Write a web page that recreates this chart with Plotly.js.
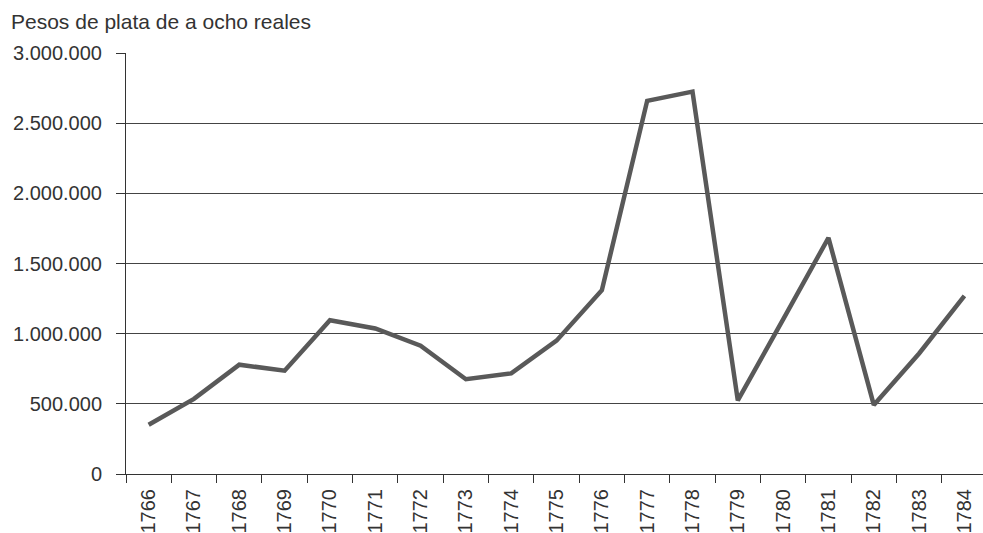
<!DOCTYPE html>
<html>
<head>
<meta charset="utf-8">
<script src="https://cdn.plot.ly/plotly-3.0.1.min.js"></script>
<style>html,body{margin:0;padding:0;background:#fff;}#chart{width:983px;height:533px;}</style>
</head>
<body>
<div id="chart"></div>
<script>
var years = ["1766","1767","1768","1769","1770","1771","1772","1773","1774","1775","1776","1777","1778","1779","1780","1781","1782","1783","1784"];
var pesos = [351000, 535000, 779000, 736000, 1096000, 1037000, 914000, 675000, 717000, 950000, 1310000, 2659000, 2725000, 524000, 1102000, 1683000, 492000, 859000, 1269000];
var yTicks = [0, 500000, 1000000, 1500000, 2000000, 2500000, 3000000];
var titleText = "Pesos de plata de a ocho reales";

var font = {family: "Liberation Sans, Arial, Helvetica, sans-serif", size: 20, color: "#333333"};

Plotly.newPlot("chart", [{
  type: "scatter",
  mode: "lines",
  x: years,
  y: pesos,
  line: {color: "#595959", width: 4.5},
  hoverinfo: "none"
}], {
  width: 983,
  height: 533,
  margin: {l: 126, r: 0, t: 53, b: 59},
  paper_bgcolor: "#ffffff",
  plot_bgcolor: "#ffffff",
  separators: ",.",
  font: font,
  showlegend: false,
  title: {
    text: titleText,
    font: {family: font.family, size: 21, color: "#333333"},
    xref: "container", yref: "container",
    x: 11 / 983, xanchor: "left",
    y: 1 - 22 / 533, yanchor: "middle"
  },
  xaxis: {
    type: "category",
    range: [-0.5, 18.41],
    tickson: "boundaries",
    ticks: "outside",
    ticklen: 8,
    tickwidth: 1,
    tickcolor: "#333333",
    tickangle: -90,
    showgrid: false,
    showline: true,
    linecolor: "#333333",
    linewidth: 1,
    zeroline: false,
    tickfont: font,
    ticklabelstandoff: 6,
    fixedrange: true
  },
  yaxis: {
    range: [0, 3000000],
    tickvals: yTicks,
    tickformat: ",d",
    ticks: "outside",
    ticklen: 9,
    tickwidth: 1,
    tickcolor: "#333333",
    showgrid: true,
    gridcolor: "#444444",
    gridwidth: 1,
    showline: true,
    linecolor: "#333333",
    linewidth: 1,
    zeroline: false,
    tickfont: font,
    ticklabelstandoff: 10,
    fixedrange: true
  }
}, {staticPlot: true, displayModeBar: false});
</script>
</body>
</html>
